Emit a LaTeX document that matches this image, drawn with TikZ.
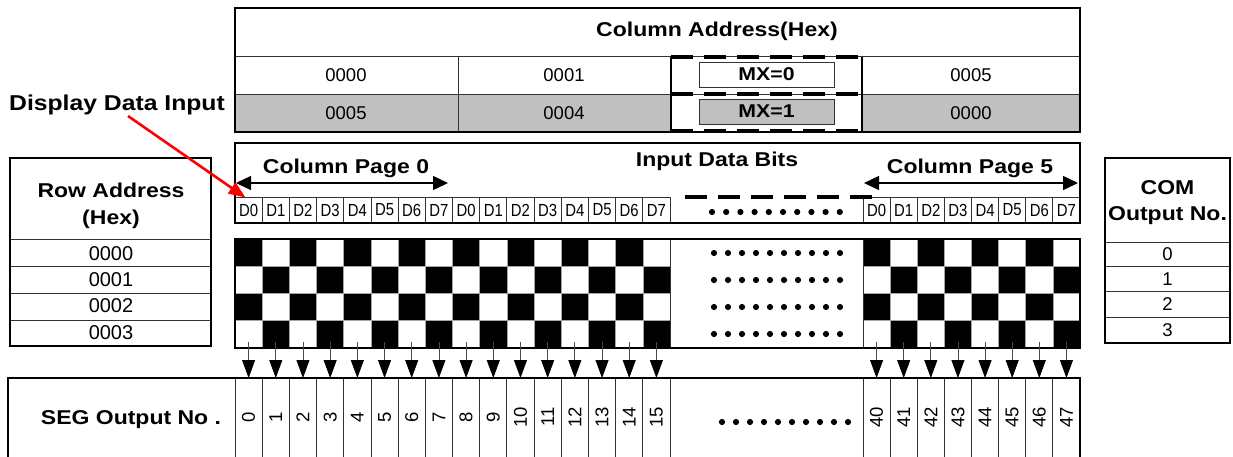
\documentclass[tikz,border=0pt]{standalone}
\usepackage{fontspec}
\setmainfont{Liberation Sans}
\newfontfamily\bw{Liberation Sans}[FakeStretch=1.15]
\newfontfamily\cnd{Liberation Sans}[FakeStretch=0.85]
\usetikzlibrary{arrows.meta,calc}
\definecolor{cellgray}{RGB}{192,192,192}
\begin{document}
\begin{tikzpicture}[x=1pt,y=-1pt,
  frame/.style={line width=2.2pt,draw=black},
  gridline/.style={line width=0.8pt,draw=black!80},
  btxt/.style={font=\bw\bfseries\fontsize{20}{22}\selectfont,inner sep=0pt},
  rtxt/.style={font=\fontsize{18.5}{20}\selectfont,inner sep=0pt},
  rowtxt/.style={font=\fontsize{20}{20}\selectfont,inner sep=0pt},
  dtxt/.style={font=\cnd\fontsize{17.5}{18}\selectfont,inner sep=0pt},
  segtxt/.style={font=\fontsize{18.5}{18}\selectfont,inner sep=0pt,rotate=90},
  dashline/.style={line width=4.5pt,dash pattern=on 22pt off 11pt},
  dcell/.style={gridline,minimum width=27.1875pt,minimum height=26pt,inner sep=0pt,dtxt},
  dcellr/.style={gridline,minimum width=27.125pt,minimum height=26pt,inner sep=0pt,dtxt},
  mxbox/.style={draw=black!80,line width=0.8pt,minimum width=135pt,minimum height=25pt,inner sep=0pt,font=\bw\bfseries\fontsize{18.5}{20}\selectfont},
  dbl/.style={line width=1.4pt,{Triangle[width=14pt,length=15pt]}-{Triangle[width=14pt,length=15pt]}},
  segarrow/.style={line width=0.8pt,draw=black!70,-{Triangle[width=13pt,length=18pt,color=black]}},
  dot/.style={fill=black}
]
\useasboundingbox (0,0) rectangle (1233,456);
\clip (0,0) rectangle (1233,456);
\def\cw{27.1875}
\def\cwr{27.125}

% ---------------- Column address table ----------------
\fill[cellgray] (235,94) rectangle (1080,132);
\fill[white] (671,94) rectangle (862,132);
\draw[gridline] (235,56) -- (1080,56);
\draw[gridline] (235,94) -- (1080,94);
\draw[gridline] (458,56) -- (458,132);
\draw[frame] (235,8) rectangle (1080,132);
\node[btxt] (cah) at (717,31) {Column Address(Hex)};
\node[rtxt] (a00) at (346,75) {0000};
\node[rtxt] (a01) at (564,75) {0001};
\node[rtxt] (a05) at (971,75) {0005};
\node[rtxt] (b05) at (346,113) {0005};
\node[rtxt] (b04) at (564,113) {0004};
\node[rtxt] (b00) at (971,113) {0000};
\node[mxbox,fill=white] (mx0) at (766.5,74.5) {MX=0};
\node[mxbox,fill=cellgray] (mx1) at (766.5,111.5) {MX=1};
\draw[line width=1.5pt] (671,57) -- (671,131);
\draw[line width=1.5pt] (862,57) -- (862,131);
\draw[dashline] (671,57) -- (862,57);
\draw[dashline] (671,94) -- (862,94);
\draw[dashline] (671,131) -- (862,131);

% ---------------- Display data input ----------------
\node[btxt,font=\bw\bfseries\fontsize{21.5}{22}\selectfont] (ddi) at (117,105) {Display Data Input};

% ---------------- Input data bits ----------------
\foreach \i in {0,...,15}{
  \pgfmathtruncatemacro\k{mod(\i,8)}
  \node[dcell,draw] (dA\i) at ({235+\cw*(\i+0.5)},210) {D\k};
}
\foreach \i in {0,...,7}{
  \node[dcellr,draw] (dB\i) at ({863+\cwr*(\i+0.5)},210) {D\i};
}
\draw[frame] (235,143) rectangle (1080,223);
\node[btxt] (idb) at (717,161) {Input Data Bits};
\node[btxt] (cp0) at (346,168) {Column Page 0};
\node[btxt] (cp5) at (970,168) {Column Page 5};
\coordinate (cp0l) at (236,183);
\coordinate (cp0r) at (448,183);
\coordinate (cp5l) at (864,183);
\coordinate (cp5r) at (1078,183);
\draw[dbl] (cp0l) -- (cp0r);
\draw[dbl] (cp5l) -- (cp5r);
\coordinate (dl1) at (685,197);
\coordinate (dl2) at (878,197);
\draw[dashline] (dl1) -- (dl2);
\foreach \j in {0,...,9}{ \fill[dot] ({712+\j*14.2},212) circle (3.1); }

% ---------------- Checkerboard ----------------
\foreach \r in {0,...,3}{
  \foreach \c in {0,...,15}{
    \pgfmathtruncatemacro\pp{mod(\r+\c,2)}
    \ifnum\pp=0
      \fill ({235+\cw*\c},{239+27.25*\r}) rectangle ({235+\cw*(\c+1)},{239+27.25*(\r+1)});
    \fi
  }
  \foreach \c in {0,...,7}{
    \pgfmathtruncatemacro\pp{mod(\r+\c,2)}
    \ifnum\pp=0
      \fill ({863+\cwr*\c},{239+27.25*\r}) rectangle ({863+\cwr*(\c+1)},{239+27.25*(\r+1)});
    \fi
  }
}
\foreach \r in {1,2,3}{
  \draw[line width=0.6pt,black!35] (235,{239+27.25*\r}) -- (670,{239+27.25*\r});
  \draw[line width=0.6pt,black!35] (863,{239+27.25*\r}) -- (1080,{239+27.25*\r});
}
\foreach \c in {1,...,15}{ \draw[line width=0.6pt,black!35] ({235+\cw*\c},239) -- ({235+\cw*\c},348); }
\foreach \c in {1,...,7}{ \draw[line width=0.6pt,black!35] ({863+\cwr*\c},239) -- ({863+\cwr*\c},348); }
\draw[gridline] (670,239) -- (670,348);
\draw[gridline] (863,239) -- (863,348);
\draw[frame] (235,239) rectangle (1080,348);
\foreach \r in {0,...,3}{
  \foreach \j in {0,...,9}{ \fill[dot] ({714+\j*14},{253+27*\r}) circle (3.1); }
}

% ---------------- Row address table ----------------
\draw[gridline] (10,239) -- (211,239);
\draw[gridline] (10,266) -- (211,266);
\draw[gridline] (10,293) -- (211,293);
\draw[gridline] (10,320) -- (211,320);
\draw[frame] (10,158) rectangle (211,346);
\node[btxt] (ra1) at (111,190) {Row Address};
\node[btxt] (ra2) at (111,219) {(Hex)};
\node[rowtxt] (r0) at (111,254) {0000};
\node[rowtxt] (r1) at (111,280) {0001};
\node[rowtxt] (r2) at (111,306) {0002};
\node[rowtxt] (r3) at (111,333) {0003};

% ---------------- COM table ----------------
\draw[gridline] (1105,242) -- (1230,242);
\draw[gridline] (1105,266) -- (1230,266);
\draw[gridline] (1105,291) -- (1230,291);
\draw[gridline] (1105,317) -- (1230,317);
\draw[frame] (1105,158) rectangle (1230,343);
\node[btxt] (com1) at (1167.5,188) {COM};
\node[btxt] (com2) at (1167.5,216) {Output No.};
\node[rtxt] (c0) at (1167.5,254) {0};
\node[rtxt] (c1) at (1167.5,279) {1};
\node[rtxt] (c2) at (1167.5,304) {2};
\node[rtxt] (c3) at (1167.5,330) {3};

% ---------------- SEG output ----------------
\foreach \i in {0,...,16}{ \draw[gridline] ({235+\cw*\i},378) -- ({235+\cw*\i},470); }
\foreach \i in {0,...,8}{ \draw[gridline] ({863+\cwr*\i},378) -- ({863+\cwr*\i},470); }
\draw[frame] (8,378) rectangle (1080,470);
\node[btxt] (seg) at (131,420) {SEG Output No .};
\foreach \i in {0,...,15}{
  \node[segtxt] (s\i) at ({235+\cw*(\i+0.5)},417) {\i};
  \coordinate (ta\i) at ({235+\cw*(\i+0.5)},342);
  \coordinate (tb\i) at ({235+\cw*(\i+0.5)},378);
  \draw[segarrow] (ta\i) -- (tb\i);
}
\foreach \i in {0,...,7}{
  \pgfmathtruncatemacro\n{40+\i}
  \node[segtxt] (s\n) at ({863+\cwr*(\i+0.5)},417) {\n};
  \coordinate (ta\n) at ({863+\cwr*(\i+0.5)},342);
  \coordinate (tb\n) at ({863+\cwr*(\i+0.5)},378);
  \draw[segarrow] (ta\n) -- (tb\n);
}
\foreach \j in {0,...,9}{ \fill[dot] ({722+\j*14},422) circle (3.1); }

% ---------------- Red arrow ----------------
\coordinate (rs) at (128,116);
\draw[red,line width=2.6pt,-{Triangle[width=13pt,length=17pt]}] (rs) -- ($(dA0.north west)+(11,1)$);
\end{tikzpicture}
\end{document}
